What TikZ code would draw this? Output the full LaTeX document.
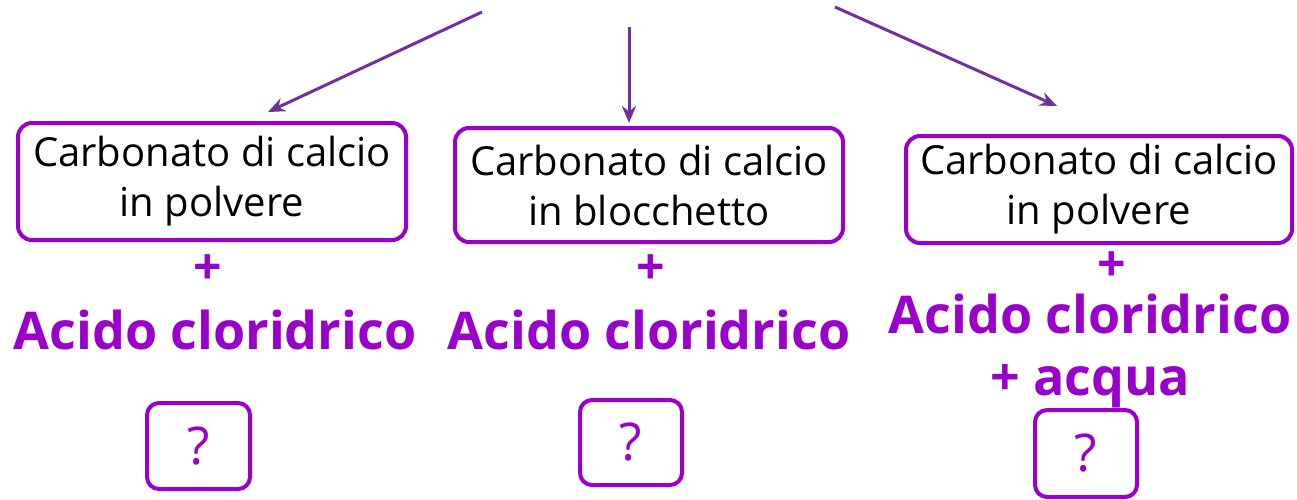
\documentclass[tikz,border=0pt]{standalone}
\usepackage{fontspec}
\setmainfont{Open Sans}
\usetikzlibrary{arrows.meta}
\definecolor{viola}{HTML}{9900CC}
\definecolor{freccia}{HTML}{7030A0}
\tikzset{
  scatola/.style={draw=viola, line width=4pt, rounded corners=14pt, align=center, inner sep=0pt,
    font=\fontsize{40}{50}\selectfont},
  domanda/.style={draw=viola, line width=4pt, rounded corners=12pt, inner sep=0pt, text=viola,
    font=\fontsize{52}{50}\selectfont},
  acido/.style={text=viola, align=center, inner sep=0pt, font=\fontsize{52}{62}\bfseries\selectfont},
  piu/.style={text=viola, inner sep=0pt, text height=32pt, text depth=0pt,
    font=\fontsize{50}{50}\bfseries\selectfont},
  freccina/.style={freccia, line width=3pt, -{Stealth[length=17pt,width=14pt]}}
}
\begin{document}
\begin{tikzpicture}[x=1pt, y=-1pt]
        \useasboundingbox (0,0) rectangle (1297,499);
        \coordinate (o1) at (482,12);
        \coordinate (o2) at (629,27);
        \coordinate (o3) at (835,7);
        \coordinate (t1) at (268,112);
        \coordinate (t3) at (1057,106);
        \node[scatola, minimum width=388pt, minimum height=117pt] (c1) at (212,181.5) {Carbonato di calcio\\in polvere};
        \node[scatola, minimum width=388pt, minimum height=114pt] (c2) at (649,185) {Carbonato di calcio\\in blocchetto};
        \node[scatola, minimum width=386pt, minimum height=107pt] (c3) at (1099,189.5) {Carbonato di calcio\\in polvere};
        \draw[freccina] (o1) -- (t1);
        \draw[freccina] (o2) -- ([yshift=3pt]o2 |- c2.north);
        \draw[freccina] (o3) -- (t3);
        \node[piu] (p1) at (208,268) {+};
        \node[piu] (p2) at (651,268) {+};
        \node[piu] (p3) at (1112,265) {+};
        \node[acido] (a1) at (215,330) {Acido cloridrico};
        \node[acido] (a2) at (649,330) {Acido cloridrico};
        \node[acido] (a3) at (1090,351) {Acido cloridrico\\+ acqua};
        \node[domanda, minimum width=103pt, minimum height=86pt] (d1) at (198.5,446) {?};
        \node[domanda, minimum width=102pt, minimum height=85pt] (d2) at (631,442.5) {?};
        \node[domanda, minimum width=102pt, minimum height=87pt] (d3) at (1086,453.5) {?};
    \end{tikzpicture}
\end{document}
